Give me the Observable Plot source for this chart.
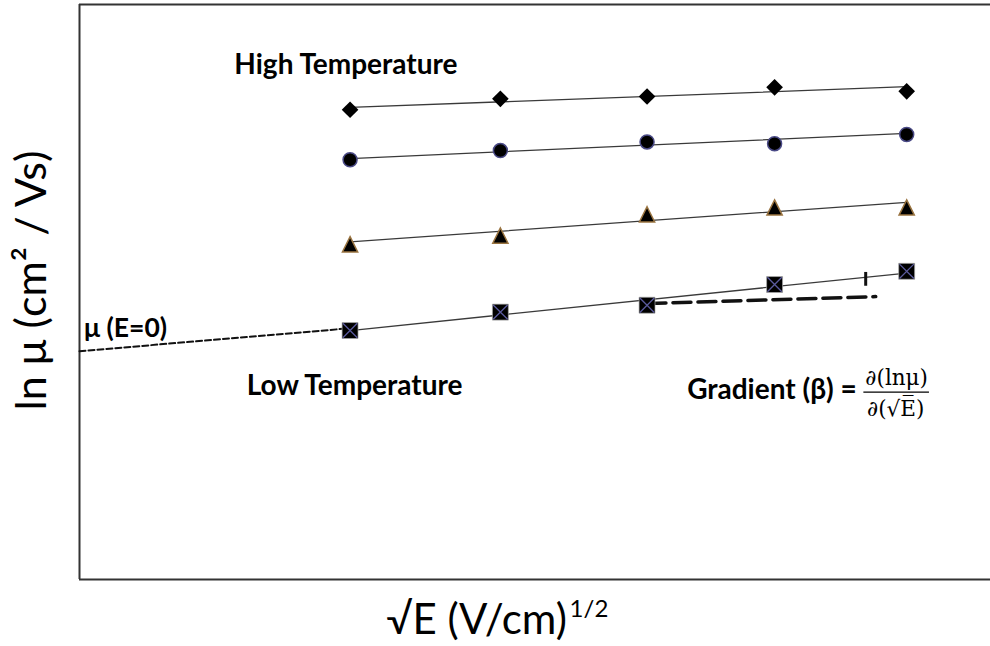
<!DOCTYPE html>
<html>
<head>
<meta charset="utf-8">
<script src="https://cdn.jsdelivr.net/npm/d3@7"></script>
<script src="https://cdn.jsdelivr.net/npm/@observablehq/plot@0.6"></script>
<style>
  body { margin: 0; background: #fff; }
  #chart svg { display: block; }
</style>
</head>
<body>
<div id="chart"></div>
<script>
// √E of the five applied fields
const sqrtE = [2.97, 4.62, 6.23, 7.63, 9.08];

// ln μ at each field, one array per temperature (hottest first)
const lnMuHot = [8.17, 8.36, 8.40, 8.56, 8.49];
const lnMuWarm = [7.30, 7.46, 7.61, 7.58, 7.74];
const lnMuCool = [5.83, 5.98, 6.35, 6.47, 6.47];
const lnMuCold = [4.33, 4.65, 4.77, 5.13, 5.36];

// straight-line fits: ln μ at the first and the last field
const fitStart = [8.21, 7.32, 5.87, 4.33];
const fitEnd = [8.57, 7.76, 6.56, 5.33];

// coldest fit extended back to E = 0
const extrapSqrtE = [0, 2.97];
const extrapLnMu = [3.97, 4.37];

// run and rise of the gradient triangle on the coldest fit
const runSqrtE = [6.24, 8.74];
const runLnMu = [4.80, 4.92];
const riseSqrtE = 8.63;
const riseLnMu = [5.10, 5.34];

const series = [lnMuHot, lnMuWarm, lnMuCool, lnMuCold];
const points = series.map((vals, i) => sqrtE.map((x, j) => ({ s: i, x, y: vals[j] })));
const fits = series.flatMap((_, i) => [
  { s: i, x: sqrtE[0], y: fitStart[i] },
  { s: i, x: sqrtE[sqrtE.length - 1], y: fitEnd[i] }
]);
const extrap = extrapSqrtE.map((x, i) => ({ x, y: extrapLnMu[i] }));
const run = runSqrtE.map((x, i) => ({ x, y: runLnMu[i] }));

// triangle as wide as it is tall, centred on its box
const boxTriangle = {
  draw(ctx, size) {
    const a = Math.sqrt(size) / 2;
    ctx.moveTo(0, -a);
    ctx.lineTo(a, a);
    ctx.lineTo(-a, a);
    ctx.closePath();
  }
};

const sans = "Lato, 'Open Sans', sans-serif";
const serif = "'DejaVu Serif', 'Liberation Serif', serif";

const chart = Plot.plot({
  width: 990,
  height: 646,
  marginLeft: 79,
  marginRight: 0,
  marginTop: 4,
  marginBottom: 67,
  style: { fontFamily: sans, background: "#fff", overflow: "visible" },
  x: { domain: [0, 10], axis: null },
  y: { domain: [0, 10], axis: null },
  marks: [
    // open frame: left, top and bottom edges
    Plot.ruleX([0], { stroke: "#333", strokeWidth: 2 }),
    Plot.ruleY([0, 10], { stroke: "#333", strokeWidth: 2 }),

    // extrapolation to zero field
    Plot.line(extrap, { x: "x", y: "y", stroke: "#111", strokeWidth: 2, strokeDasharray: "6,3" }),

    // fitted lines
    Plot.line(fits, { x: "x", y: "y", z: "s", stroke: "#3a3a3a", strokeWidth: 1.3 }),

    // gradient construction
    Plot.line(run, { x: "x", y: "y", stroke: "#111", strokeWidth: 3.5, strokeDasharray: "18,7" }),
    Plot.ruleX([riseSqrtE], { y1: riseLnMu[0], y2: riseLnMu[1], stroke: "#111", strokeWidth: 3 }),

    // data points
    Plot.dot(points[0], { x: "x", y: "y", symbol: "diamond2", r: 7.5, fill: "#000" }),
    Plot.dot(points[1], { x: "x", y: "y", symbol: "circle", r: 7, fill: "#000", stroke: "#4a4a86", strokeWidth: 1.5 }),
    Plot.dot(points[2], { x: "x", y: "y", symbol: boxTriangle, r: 8.6, fill: "#000", stroke: "#9a7440", strokeWidth: 1.5 }),
    Plot.dot(points[3], { x: "x", y: "y", symbol: "square", r: 9, fill: "#000", stroke: "#aaa", strokeWidth: 0.7 }),
    Plot.dot(points[3], { x: "x", y: "y", symbol: "times", r: 6.6, stroke: "#5a5a9c", strokeWidth: 1.3 }),

    // annotations
    Plot.text(["High Temperature"], { x: 2.925, y: 8.94, fontFamily: sans, fontWeight: "bold", fontSize: 28, fill: "#000" }),
    Plot.text(["Low Temperature"], { x: 3.02, y: 3.36, fontFamily: sans, fontWeight: "bold", fontSize: 28, fill: "#000" }),
    Plot.text(["μ (E=0)"], { x: 0.05, y: 4.36, textAnchor: "start", fontFamily: sans, fontWeight: "bold", fontSize: 26.5, fill: "#000" }),
    Plot.text(["Gradient (β) ="], { x: 6.67, y: 3.30, textAnchor: "start", fontFamily: sans, fontWeight: "bold", fontSize: 28, fill: "#000" }),
    Plot.text(["∂(lnμ)"], { x: 8.97, y: 3.50, fontFamily: serif, fontSize: 21.5, fill: "#000" }),
    Plot.ruleY([3.26], { x1: 8.61, x2: 9.33, stroke: "#000", strokeWidth: 1.2 }),
    Plot.text(["∂(√E\u0305)"], { x: 8.96, y: 2.96, fontFamily: serif, fontSize: 21.5, fill: "#000" }),

    // axis titles
    Plot.text(["√E (V/cm)"], { x: 5.35, y: -0.94, textAnchor: "end", lineAnchor: "bottom", fontFamily: sans, fontSize: 42, fill: "#000" }),
    Plot.text(["1/2"], { x: 5.38, y: -0.66, textAnchor: "start", lineAnchor: "bottom", fontFamily: sans, fontSize: 24, fill: "#000" }),
    Plot.text(["ln μ (cm² / Vs)"], { x: -0.373, y: 5.20, rotate: -90, lineAnchor: "bottom", fontFamily: sans, fontSize: 43, fill: "#000" })
  ]
});

document.getElementById("chart").appendChild(chart);
</script>
</body>
</html>
